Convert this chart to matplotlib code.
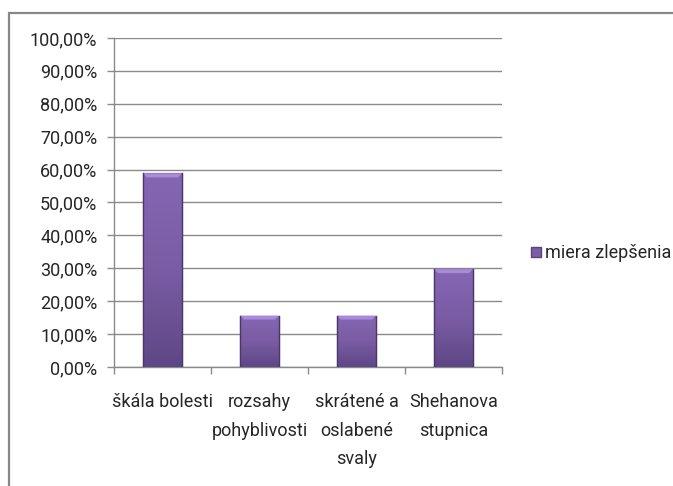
import matplotlib
matplotlib.use("Agg")
import matplotlib.pyplot as plt
import numpy as np
from matplotlib.patches import Rectangle
from matplotlib.lines import Line2D

categories = ["škála bolesti", "rozsahy\npohyblivosti", "skrátené a\noslabené\nsvaly", "Shehanova\nstupnica"]
values = [0.588, 0.156, 0.156, 0.297]
series_name = "miera zlepšenia"
yticks = np.arange(0, 1.01, 0.1)

plt.rcParams["font.family"] = ["Roboto", "DejaVu Sans"]
text_color = "#262626"
grid_color = "#8a8a8a"
fsize = 13

fig = plt.figure(figsize=(6.73, 4.86), dpi=100)
ax = fig.add_axes([0.1694, 0.245, 0.5765, 0.677])

# chart area frame (only top and left edges fall inside the image)
fig.add_artist(Rectangle((9 / 673, -0.1), 1.2, 1 - 13 / 486 + 0.1,
                         transform=fig.transFigure, fill=False,
                         edgecolor="#878787", linewidth=1.6))

x = np.arange(len(categories))
bars = ax.bar(x, values, width=0.4, color="#7B5EA5", edgecolor="#5A4380",
              linewidth=0.8, zorder=3)

# vertical shading inside each bar, lighter bevel along the top
grad = np.linspace(0, 1, 256).reshape(-1, 1)
cmap = matplotlib.colors.LinearSegmentedColormap.from_list(
    "bar", ["#5E4786", "#7A5CA4", "#8566B3"])
for b, v in zip(bars, values):
    x0 = b.get_x()
    w = b.get_width()
    im = ax.imshow(grad, extent=(x0, x0 + w, 0, v), origin="lower",
                   cmap=cmap, aspect="auto", zorder=3.5)
    im.set_clip_path(b)
    bevel = 0.012
    ax.fill([x0, x0 + w, x0 + w - 0.04, x0 + 0.04],
            [v, v, v - bevel, v - bevel], color="#A98AD9", zorder=4, lw=0)
    ax.plot([x0, x0], [0, v], color="#4B3869", lw=1.0, zorder=4)
    ax.plot([x0 + w, x0 + w], [0, v], color="#4B3869", lw=1.0, zorder=4)

ax.set_xlim(-0.5, len(categories) - 0.5)
ax.set_ylim(0, 1.0)
ax.set_yticks(yticks)
ax.set_yticklabels([f"{t * 100:.2f}%".replace(".", ",") for t in yticks])
ax.yaxis.grid(True, color=grid_color, linewidth=1.0, zorder=0)
ax.set_axisbelow(True)

ax.set_xticks(x)
ax.set_xticklabels(categories, linespacing=1.75, va="top")
ax.set_xticks(np.arange(-0.5, len(categories)), minor=True)
ax.tick_params(axis="x", which="major", length=0, pad=19, labelsize=fsize,
               labelcolor=text_color)
ax.tick_params(axis="x", which="minor", length=5, width=1.0, color=grid_color,
               direction="out")
ax.tick_params(axis="y", length=5, width=1.0, color=grid_color,
               labelsize=fsize, labelcolor=text_color, pad=7)

for side in ("top", "right"):
    ax.spines[side].set_visible(False)
for side in ("left", "bottom"):
    ax.spines[side].set_color(grid_color)
    ax.spines[side].set_linewidth(1.0)

handle = Line2D([], [], marker="s", linestyle="none", markersize=7.5,
                markerfacecolor="#7B5EA5", markeredgecolor="#5A4380")
leg = fig.legend([handle], [series_name], loc="center left",
                 bbox_to_anchor=(0.785, 1 - 253 / 486), frameon=False,
                 fontsize=fsize, handletextpad=0.15, borderpad=0,
                 handlelength=0.8, borderaxespad=0)
for t in leg.get_texts():
    t.set_color(text_color)

fig.savefig("out.png", dpi=100)
